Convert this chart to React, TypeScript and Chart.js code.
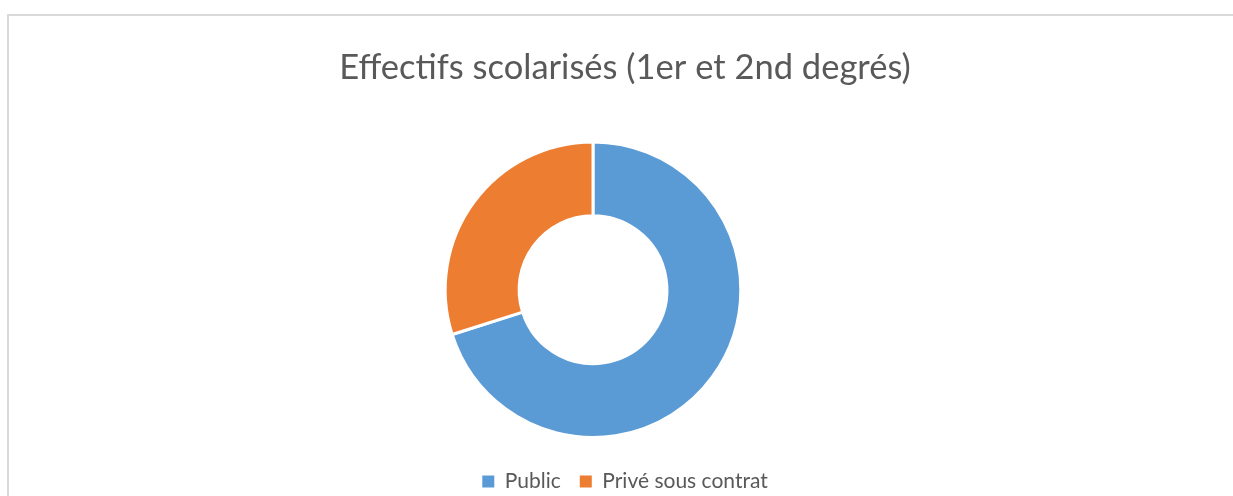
import React, { useEffect, useRef } from 'react';
import { Chart, registerables, layouts } from 'chart.js';

Chart.register(...registerables);

const categories: string[] = ['Public', 'Privé sous contrat'];
const values: number[] = [70.1, 29.9];
const sliceColors: string[] = ['#5B9BD5', '#ED7D31'];
const chartTitle = 'Effectifs scolarisés (1er et 2nd degrés)';

const FONT = 'Lato, "Open Sans", sans-serif';
const TEXT_COLOR = '#595959';

function makeSpacer(position: string, size: number) {
  return {
    position,
    weight: 0,
    fullSize: false,
    options: {},
    left: 0,
    top: 0,
    right: 0,
    bottom: 0,
    width: 0,
    height: 0,
    isHorizontal() {
      return position === 'top' || position === 'bottom';
    },
    update(maxWidth: number, maxHeight: number) {
      if (this.isHorizontal()) {
        this.width = maxWidth;
        this.height = size;
      } else {
        this.width = size;
        this.height = maxHeight;
      }
    },
    draw() {},
  };
}

const spacerPlugin = {
  id: 'spacers',
  beforeInit(chart: any) {
    layouts.addBox(chart, makeSpacer('right', 64) as any);
    layouts.addBox(chart, makeSpacer('bottom', 13) as any);
  },
};

export default function App() {
  const canvasRef = useRef<HTMLCanvasElement | null>(null);

  useEffect(() => {
    if (!canvasRef.current) return;
    const defaultGenerate = (Chart as any).overrides.doughnut.plugins.legend.labels.generateLabels;
    const chart = new Chart(canvasRef.current, {
      type: 'doughnut',
      data: {
        labels: categories,
        datasets: [
          {
            data: values,
            backgroundColor: sliceColors,
            borderColor: '#ffffff',
            borderWidth: 3,
            hoverOffset: 0,
          },
        ],
      },
      options: {
        responsive: true,
        maintainAspectRatio: false,
        animation: false,
        cutout: '50%',
        layout: { padding: { left: 8, bottom: 8 } },
        plugins: {
          tooltip: { enabled: false },
          title: {
            display: true,
            text: chartTitle,
            color: TEXT_COLOR,
            font: { family: FONT, size: 34.5, weight: 'normal' },
            padding: { top: 31, bottom: 52 },
          },
          legend: {
            display: true,
            position: 'bottom',
            labels: {
              color: TEXT_COLOR,
              font: { family: FONT, size: 21 },
              boxWidth: 12,
              boxHeight: 12,
              padding: 19,
              generateLabels: (c: any) =>
                defaultGenerate(c).map((item: any) => ({
                  ...item,
                  lineWidth: 0,
                  strokeStyle: 'transparent',
                })),
            },
          },
        },
      },
      plugins: [spacerPlugin],
    });
    return () => chart.destroy();
  }, []);

  return (
    <div
      style={{
        position: 'fixed',
        left: 0,
        top: 0,
        width: 1233,
        height: 496,
        overflow: 'hidden',
        background: '#ffffff',
      }}
    >
      <div
        style={{
          position: 'absolute',
          left: 7,
          top: 14,
          width: 1240,
          height: 520,
          borderTop: '2px solid #d9d9d9',
          borderLeft: '2px solid #d9d9d9',
          boxSizing: 'border-box',
        }}
      >
        <div style={{ position: 'relative', width: 1224, height: 494 }}>
          <canvas ref={canvasRef} />
        </div>
      </div>
    </div>
  );
}
